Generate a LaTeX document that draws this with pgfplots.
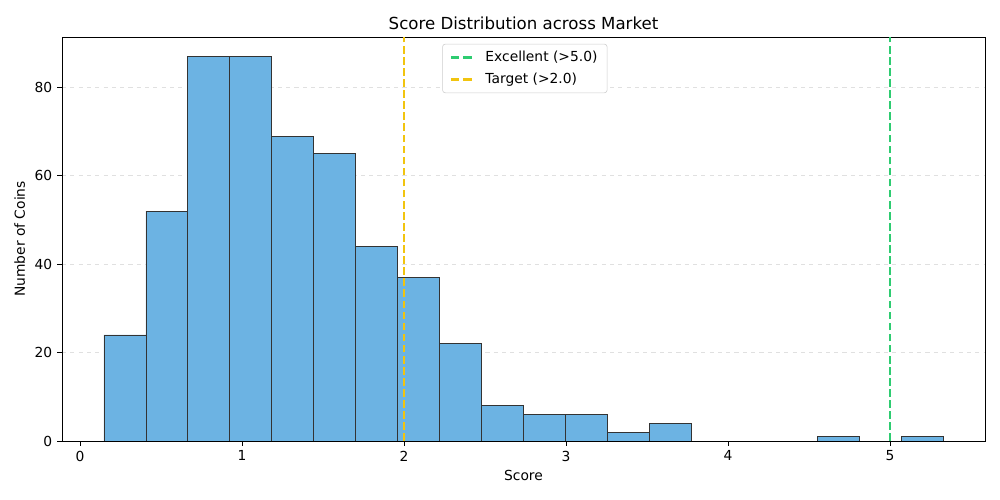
\documentclass[border=0pt]{standalone}
\usepackage{pgfplots}
\pgfplotsset{compat=1.18}
\usepackage{fontspec}
\setmainfont{DejaVu Sans}
\definecolor{barblue}{RGB}{108,179,227}
\definecolor{exgreen}{RGB}{46,204,113}
\definecolor{tgyellow}{RGB}{241,196,15}
\begin{document}
\begin{tikzpicture}
\begin{axis}[
	at={(0,0)},anchor=south west,
	scale only axis,width=9.23in,height=4.04in,
	xmin=-0.111,xmax=5.586,ymin=0,ymax=91.4,
	xtick={0,1,2,3,4,5},ytick={0,20,40,60,80},
	tick align=outside,tick pos=left,
	major tick length=3.5pt,
	tick style={black,line width=0.6pt},
	ymajorgrids,
	grid style={dashed,black!12,line width=0.5pt},
	ticklabel style={font=\fontsize{10}{12}\selectfont},
	/pgf/number format/assume math mode=true,
	xlabel={Score},ylabel={Number of Coins},
	label style={font=\fontsize{10}{12}\selectfont},
	title={Score Distribution across Market},
	title style={font=\fontsize{12}{14}\selectfont,yshift=-4pt},
	axis line style={line width=0.6pt},
	legend style={at={(0.412,0.983)},anchor=north west,
		font=\fontsize{10}{12}\selectfont,draw=black!20,rounded corners=2pt,
		row sep=3pt,inner xsep=5pt,inner ysep=3pt},
	legend cell align=left,
	legend image code/.code={\draw[#1,line width=2pt,dash pattern=on 6pt off 3pt] (0pt,0pt) -- (17pt,0pt);
		\path[draw=none,fill=none] (0pt,0pt) (23pt,0pt);},
	]
\addplot[ybar interval,fill=barblue,draw=black!80,line width=0.6pt,forget plot] coordinates {
	(0.148,24) (0.407,52) (0.666,87) (0.925,87) (1.184,69)
	(1.443,65) (1.702,44) (1.961,37) (2.220,22) (2.479,8)
	(2.738,6) (2.997,6) (3.256,2) (3.515,4) (3.774,0)
	(4.033,0) (4.292,0) (4.551,1) (4.810,0) (5.069,1) (5.328,1)};
\addlegendimage{exgreen}
\addlegendentry{Excellent (>5.0)}
\addlegendimage{tgyellow}
\addlegendentry{Target (>2.0)}
\addplot[exgreen,line width=1.8pt,dash pattern=on 5.5pt off 2.5pt,forget plot] coordinates {(5,0) (5,91.4)};
\addplot[tgyellow,line width=1.8pt,dash pattern=on 5.5pt off 2.5pt,forget plot] coordinates {(2,0) (2,91.4)};
\end{axis}
\pgfresetboundingbox
\useasboundingbox (-0.62in,-0.59in) rectangle (9.38in,4.41in);
\end{tikzpicture}
\end{document}
